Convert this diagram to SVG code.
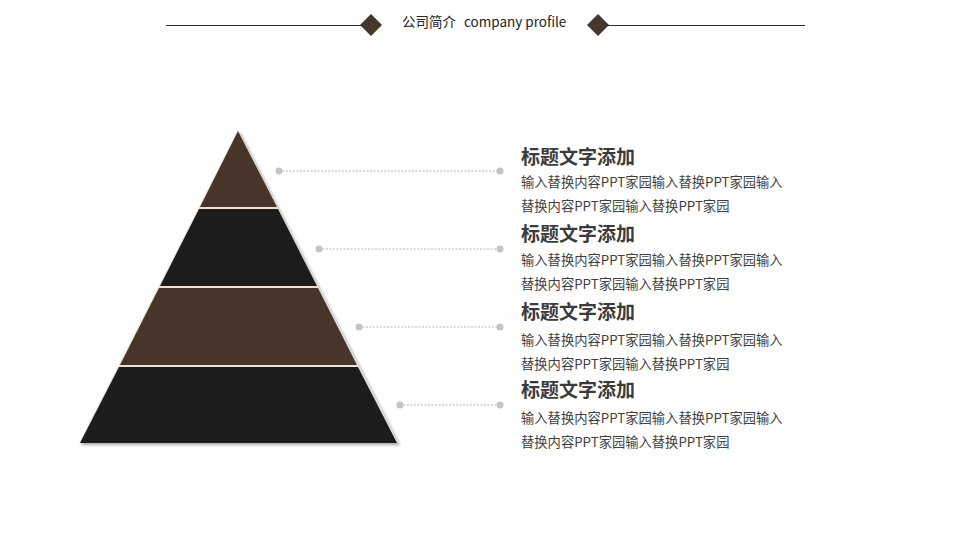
<svg xmlns="http://www.w3.org/2000/svg" width="960" height="548" viewBox="0 0 960 548">
<defs>
<style>
.hl{stroke:#2a2a2a;stroke-width:1}
.dia{fill:#45372a}
.brown{fill:#46362a}
.black{fill:#1a1a1a}
.dash{stroke:#b5b5b5;stroke-width:1;stroke-dasharray:2 1.5}
.dot{fill:#c4c4c4}
.t{font-family:"Noto Sans CJK SC","Liberation Sans",sans-serif;font-size:19px;font-weight:bold;fill:#3b3b3b}
.b{font-family:"Noto Sans CJK SC","Liberation Sans",sans-serif;font-size:13.3px;fill:#3f3f3f}
.h{font-family:"Noto Sans CJK SC","Liberation Sans",sans-serif;font-size:13.5px;fill:#222}
</style>
<filter id="sh" x="-10%" y="-10%" width="120%" height="120%">
<feGaussianBlur in="SourceAlpha" stdDeviation="1.5"/>
<feOffset dx="2" dy="2" result="o"/>
<feComponentTransfer><feFuncA type="linear" slope="0.35"/></feComponentTransfer>
<feMerge><feMergeNode/><feMergeNode in="SourceGraphic"/></feMerge>
</filter>
</defs>
<rect width="960" height="548" fill="#fff"/>
<g id="header">
<line class="hl" x1="166" y1="25.5" x2="362" y2="25.5"/>
<polygon class="dia" points="371,14 382,25 371,36 360,25"/>
<text class="h" x="402" y="27">公司简介</text>
<text class="h" x="464" y="27">company profile</text>
<polygon class="dia" points="598,14 609,25 598,36 587,25"/>
<line class="hl" x1="607" y1="25.5" x2="805" y2="25.5"/>
</g>
<g id="pyramid" filter="url(#sh)">
<polygon points="238,130 79,443 398,443" fill="#e8e2d8"/>
<polygon id="level1" class="brown" points="238,131 200,207 277,207"/>
<polygon id="level2" class="black" points="199,209 278,209 317,286 160,286"/>
<polygon id="level3" class="brown" points="159,288 318,288 357,365 120,365"/>
<polygon id="level4" class="black" points="119,367 358,367 397,443 80,443"/>
</g>
<g id="connectors">
<line class="dash" x1="279" y1="171" x2="500" y2="171"/>
<circle class="dot" cx="279" cy="171" r="3.5"/><circle class="dot" cx="500" cy="171" r="3.5"/>
<line class="dash" x1="319" y1="249" x2="500" y2="249"/>
<circle class="dot" cx="319" cy="249" r="3.5"/><circle class="dot" cx="500" cy="249" r="3.5"/>
<line class="dash" x1="359" y1="327" x2="500" y2="327"/>
<circle class="dot" cx="359" cy="327" r="3.5"/><circle class="dot" cx="500" cy="327" r="3.5"/>
<line class="dash" x1="400" y1="405" x2="500" y2="405"/>
<circle class="dot" cx="400" cy="405" r="3.5"/><circle class="dot" cx="500" cy="405" r="3.5"/>
</g>
<g id="item1">
<text class="t" x="521" y="164">标题文字添加</text>
<text class="b" x="521" y="187">输入替换内容PPT家园输入替换PPT家园输入</text>
<text class="b" x="521" y="211">替换内容PPT家园输入替换PPT家园</text>
</g>
<g id="item2">
<text class="t" x="521" y="241">标题文字添加</text>
<text class="b" x="521" y="265">输入替换内容PPT家园输入替换PPT家园输入</text>
<text class="b" x="521" y="289">替换内容PPT家园输入替换PPT家园</text>
</g>
<g id="item3">
<text class="t" x="521" y="319">标题文字添加</text>
<text class="b" x="521" y="345">输入替换内容PPT家园输入替换PPT家园输入</text>
<text class="b" x="521" y="369">替换内容PPT家园输入替换PPT家园</text>
</g>
<g id="item4">
<text class="t" x="521" y="397">标题文字添加</text>
<text class="b" x="521" y="423">输入替换内容PPT家园输入替换PPT家园输入</text>
<text class="b" x="521" y="447">替换内容PPT家园输入替换PPT家园</text>
</g>
</svg>
